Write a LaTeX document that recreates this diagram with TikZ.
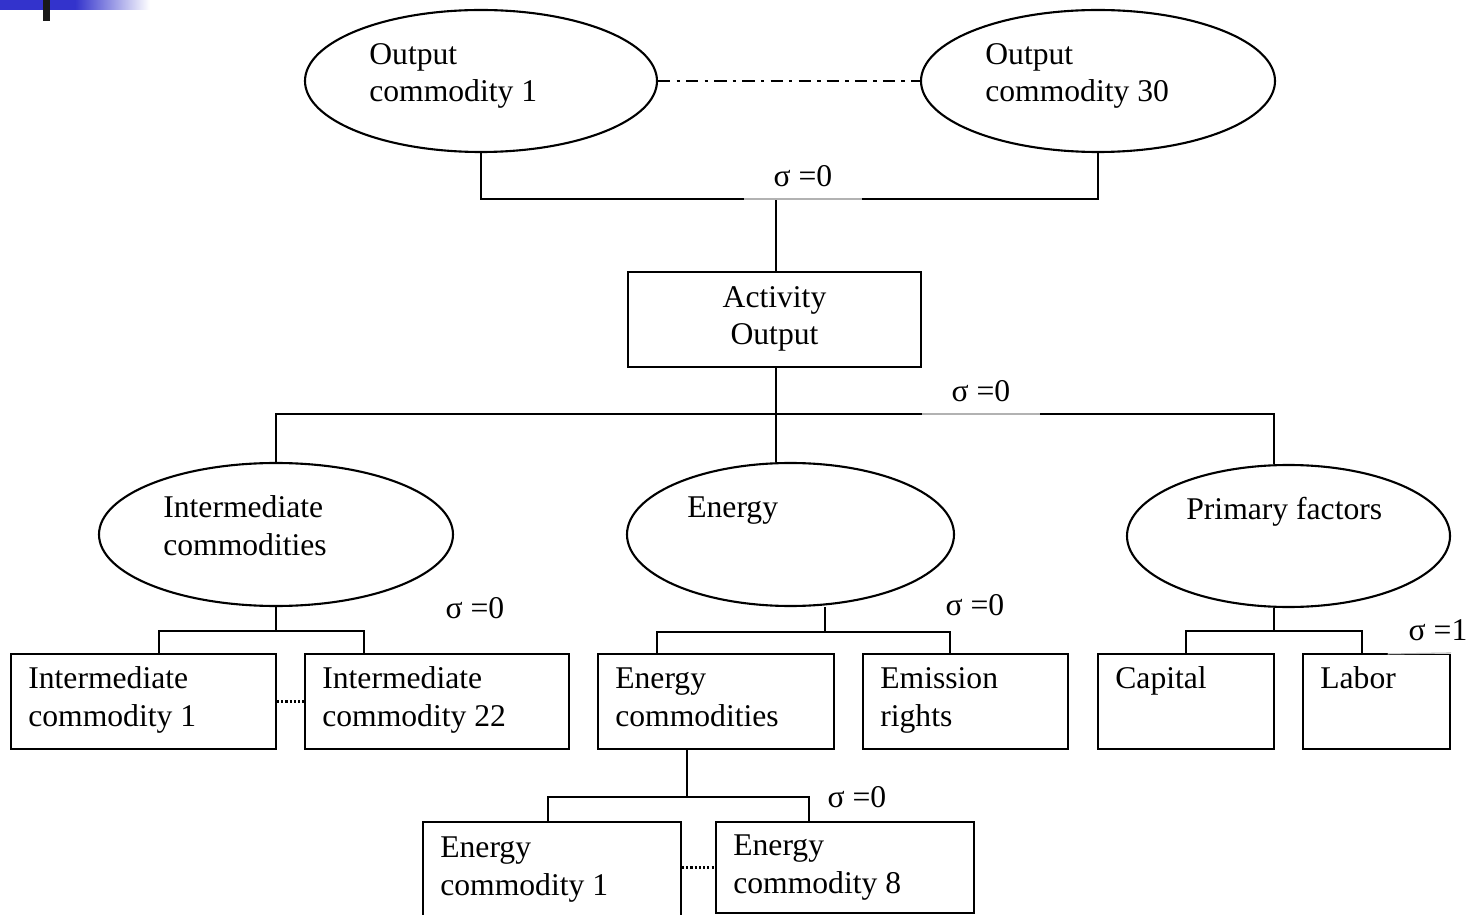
\documentclass[tikz,border=0pt]{standalone}
\usepackage{fontspec}
\setmainfont{Liberation Serif}
\usetikzlibrary{shapes.geometric}
\definecolor{Slide}{HTML}{3333CC}
\tikzset{
 wh/.style 2 args={minimum width=#1*0.02cm,minimum height=#2*0.02cm},
 oval/.style={ellipse,draw,line width=1.2pt,inner sep=0pt},
 cell/.style={rectangle,draw,line width=1.2pt,inner sep=0pt},
 txt/.style={font=\fontsize{18}{21.5}\selectfont,align=left,inner sep=0pt,anchor=base west},
 sig/.style={font=\fontsize{18}{21.5}\selectfont,inner sep=0pt,anchor=south,wh={117}{46}},
 cut/.style={sig,fill=white},
 tie/.style={line width=1.2pt},
 alt/.style={tie,dash pattern=on 7pt off 3.5pt on 2pt off 3.5pt},
 dots/.style={tie,dash pattern=on 1.2pt off 1.2pt},
 seam/.style={draw=black!30,line width=0.6pt}
}
\begin{document}
\begin{tikzpicture}[x=0.02cm,y=-0.02cm]
\useasboundingbox (0,0) rectangle (1474,915);
\clip (0,0) rectangle (1474,915);
\fill[white] (0,0) rectangle (1474,915);
% slide corner
\fill[Slide] (0,0) rectangle (75,10);
\shade[left color=Slide,right color=white] (75,0) rectangle (150,10);
\fill[black!90] (43,0) rectangle (50,21);

% outputs
\node[oval,wh={352}{142}] (out1) at (481,81) {};
\node[oval,wh={354}{142}] (out30) at (1098,81) {};
\node[cell,wh={293}{95}] (act) at (774.5,319.5) {};
% nests
\node[oval,wh={354}{143}] (inter) at (276,534.5) {};
\node[oval,wh={327}{143}] (energy) at (790.5,534.5) {};
\node[oval,wh={323}{142}] (prim) at (1288.5,536) {};
% inputs
\node[cell,wh={265}{95}] (ic1) at (143.5,701.5) {};
\node[cell,wh={264}{95}] (ic22) at (437,701.5) {};
\node[cell,wh={236}{95}] (ecs) at (716,701.5) {};
\node[cell,wh={205}{95}] (emr) at (965.5,701.5) {};
\node[cell,wh={176}{95}] (cap) at (1186,701.5) {};
\node[cell,wh={147}{95}] (lab) at (1376.5,701.5) {};
\node[cell,wh={258}{108}] (ec1) at (552,876) {};
\node[cell,wh={258}{91}] (ec8) at (845,867.5) {};

% joints
\coordinate (j1) at (776,199);
\coordinate (j2) at (776,414);
\coordinate (b1) at (276,631);
\coordinate (b2) at (825,632);
\coordinate (b3) at (1274,631);
\coordinate (b4) at (687,797);

\draw[alt] (out1.east) -- (out30.west);
\draw[tie] (out1.south) |- (j1) -| (out30.south);
\draw[tie] (act.north -| j1) -- (j1);
\draw[tie] (inter.north) |- (j2) -| (prim.north -| b3);
\draw[tie] (act.south -| j2) -- (j2) -- (energy.north -| j2);
\draw[tie] (inter.south) -- (b1);
\draw[tie] (ic1.north -| 159,0) |- (b1) -| (ic22.north -| 364,0);
\draw[tie] (energy.south -| b2) -- (b2);
\draw[tie] (ecs.north -| 657,0) |- (b2) -| (emr.north -| 950,0);
\draw[tie] (prim.south -| b3) -- (b3);
\draw[tie] (cap.north -| 1186,0) |- (b3) -| (lab.north -| 1362,0);
\draw[tie] (ecs.south -| b4) -- (b4);
\draw[tie] (ec1.north -| 548,0) |- (b4) -| (ec8.north -| 809,0);
\draw[dots] (ic1.east) -- (ic22.west);
\draw[dots] (ec8.west -| ec1.east) -- (ec8.west);

% elasticities
\node[cut] (s1) at (803,199) {σ =0};
\node[cut] (s2) at (981,414) {σ =0};
\node[sig] (s3) at (475,631) {σ =0};
\node[sig] (s4) at (975,628) {σ =0};
\node[cut,wh={100}{46}] (s5) at (1438,654) {σ =1};
\node[sig] (s6) at (857,820) {σ =0};
\draw[seam] (s1.south west) -- (s1.south east);
\draw[seam] (s2.south west) -- (s2.south east);
\draw[seam] (s5.south west) -- (lab.north east);

% texts (base = last line)
\node[txt] (t1) at (369,102) {Output\\commodity 1};
\node[txt] (t30) at (985,102) {Output\\commodity 30};
\node[txt,align=center,anchor=base] (tact) at (774.5,345) {Activity\\Output};
\node[txt] (tint) at (163,555) {Intermediate\\commodities};
\node[txt] (teng) at (687,517) {Energy};
\node[txt] (tpri) at (1186,519) {Primary factors};
\node[txt] (tic1) at (28,726) {Intermediate\\commodity 1};
\node[txt] (tic22) at (322,726) {Intermediate\\commodity 22};
\node[txt] (tecs) at (615,726) {Energy\\commodities};
\node[txt] (temr) at (880,726) {Emission\\rights};
\node[txt] (tcap) at (1115,688) {Capital};
\node[txt] (tlab) at (1320,688) {Labor};
\node[txt] (tec1) at (440,895) {Energy\\commodity 1};
\node[txt] (tec8) at (733,893) {Energy\\commodity 8};
\end{tikzpicture}
\end{document}
